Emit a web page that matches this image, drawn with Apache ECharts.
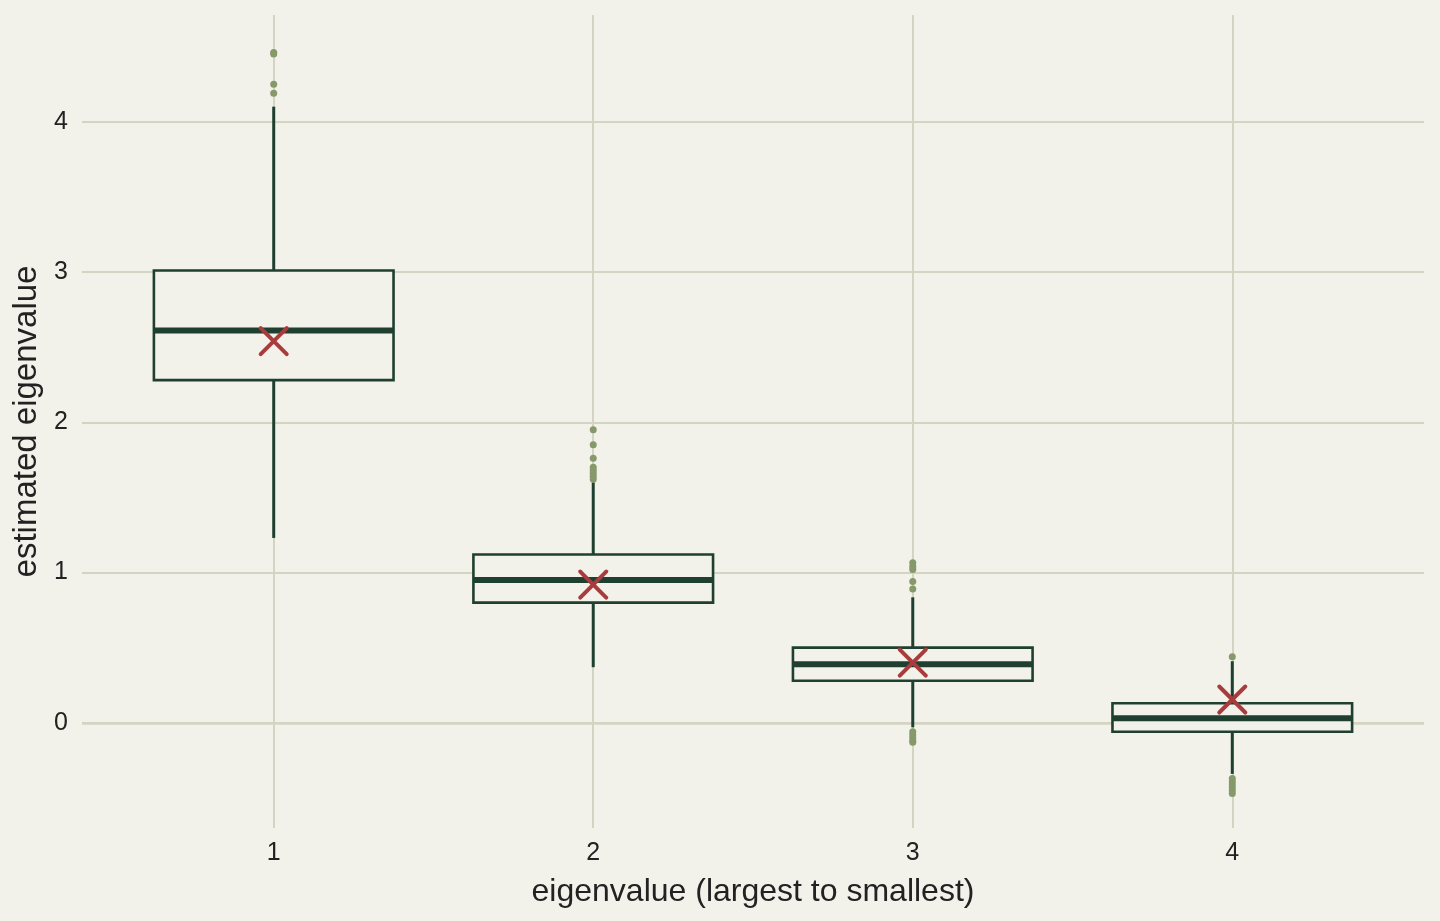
<!DOCTYPE html>
<html>
<head>
<meta charset="utf-8">
<title>eigenvalue boxplot</title>
<script src="https://cdn.jsdelivr.net/npm/echarts@6/dist/echarts.min.js"></script>
<style>
  html, body { margin: 0; padding: 0; background: #f2f1ea; }
  #main { width: 1440px; height: 921px; }
</style>
</head>
<body>
<div id="main"></div>
<script>
// box statistics per eigenvalue rank
var categories = [1, 2, 3, 4];
var whiskerLow = [1.23, 0.37, -0.03, -0.34];
var q1 = [2.28, 0.80, 0.28, -0.06];
var median = [2.61, 0.95, 0.39, 0.03];
var q3 = [3.01, 1.12, 0.50, 0.13];
var whiskerHigh = [4.10, 1.60, 0.835, 0.41];
var means = [2.54, 0.92, 0.40, 0.155];
var outliers = [
	[4.46, 4.45, 4.25, 4.19],
	[1.95, 1.85, 1.76, 1.70, 1.68, 1.66, 1.64, 1.62],
	[1.065, 1.04, 1.02, 0.94, 0.89, -0.06, -0.08, -0.10, -0.12, -0.13],
	[0.44, -0.37, -0.39, -0.41, -0.43, -0.45, -0.47]
];
var yTicks = [0, 1, 2, 3, 4];

var bg = '#f2f1ea';
var gridColor = '#d3d4c1';
var boxColor = '#1f4030';
var dotColor = '#86996a';
var meanColor = '#a83c3c';
var font = 'Liberation Sans';

var boxData = categories.map(function(c, i) {
	return [c, whiskerLow[i], q1[i], median[i], q3[i], whiskerHigh[i]];
});
var meanData = categories.map(function(c, i) {
	return [c, means[i]];
});
var outlierData = [];
categories.forEach(function(c, i) {
	outliers[i].forEach(function(v) {
		outlierData.push([c, v]);
	});
});

function renderBox(params, api) {
	var x = api.value(0);
	var halfW = api.size([0.75, 0])[0] / 2;
	var pLow = api.coord([x, api.value(1)]);
	var pQ1 = api.coord([x, api.value(2)]);
	var pMed = api.coord([x, api.value(3)]);
	var pQ3 = api.coord([x, api.value(4)]);
	var pHigh = api.coord([x, api.value(5)]);
	return {
		type: 'group',
		children: [{
			type: 'line',
			shape: { x1: pQ3[0], y1: pQ3[1], x2: pHigh[0], y2: pHigh[1] },
			style: { stroke: boxColor, lineWidth: 3 }
		}, {
			type: 'line',
			shape: { x1: pLow[0], y1: pLow[1], x2: pQ1[0], y2: pQ1[1] },
			style: { stroke: boxColor, lineWidth: 3 }
		}, {
			type: 'rect',
			shape: { x: pQ3[0] - halfW, y: pQ3[1], width: halfW * 2, height: pQ1[1] - pQ3[1] },
			style: { fill: bg, stroke: boxColor, lineWidth: 2.6 }
		}, {
			type: 'line',
			shape: { x1: pMed[0] - halfW, y1: pMed[1], x2: pMed[0] + halfW, y2: pMed[1] },
			style: { stroke: boxColor, lineWidth: 6 }
		}]
	};
}

function renderMean(params, api) {
	var p = api.coord([api.value(0), api.value(1)]);
	var r = 13;
	var st = { stroke: meanColor, lineWidth: 4, lineCap: 'round' };
	return {
		type: 'group',
		children: [{
			type: 'line',
			shape: { x1: p[0] - r, y1: p[1] - r, x2: p[0] + r, y2: p[1] + r },
			style: st
		}, {
			type: 'line',
			shape: { x1: p[0] - r, y1: p[1] + r, x2: p[0] + r, y2: p[1] - r },
			style: st
		}]
	};
}

var chart = echarts.init(document.getElementById('main'));
var option = {
	backgroundColor: bg,
	animation: false,
	textStyle: { fontFamily: font },
	grid: { left: 82, right: 16, top: 15, bottom: 93 },
	xAxis: {
		type: 'value',
		min: 0.4,
		max: 4.6,
		name: 'eigenvalue (largest to smallest)',
		nameLocation: 'middle',
		nameGap: 48,
		nameTextStyle: { fontSize: 32, color: '#222', fontFamily: font },
		axisLine: { show: false },
		axisTick: { show: false, customValues: categories },
		axisLabel: { customValues: categories, fontSize: 25, color: '#222', margin: 13, fontFamily: font },
		splitLine: { show: true, lineStyle: { color: gridColor, width: 2 } }
	},
	yAxis: {
		type: 'value',
		min: -0.70,
		max: 4.71,
		name: 'estimated eigenvalue',
		nameLocation: 'middle',
		nameGap: 36,
		nameTextStyle: { fontSize: 33, color: '#222', fontFamily: font },
		axisLine: { show: false },
		axisTick: { show: false, customValues: yTicks },
		axisLabel: { customValues: yTicks, fontSize: 25, color: '#222', margin: 14, fontFamily: font },
		splitLine: { show: true, lineStyle: { color: gridColor, width: 2 } }
	},
	series: [{
		type: 'custom',
		name: 'box',
		renderItem: renderBox,
		encode: { x: 0, y: [1, 2, 3, 4, 5] },
		data: boxData,
		z: 2,
		markLine: {
			silent: true,
			symbol: 'none',
			label: { show: false },
			lineStyle: { color: gridColor, width: 2.6, type: 'solid' },
			data: [{ yAxis: 0 }],
			z: 1
		}
	}, {
		type: 'scatter',
		name: 'outliers',
		symbol: 'circle',
		symbolSize: 7,
		itemStyle: { color: dotColor, opacity: 1 },
		data: outlierData,
		z: 3
	}, {
		type: 'custom',
		name: 'mean',
		renderItem: renderMean,
		encode: { x: 0, y: 1 },
		data: meanData,
		z: 4
	}]
};
chart.setOption(option);
</script>
</body>
</html>
